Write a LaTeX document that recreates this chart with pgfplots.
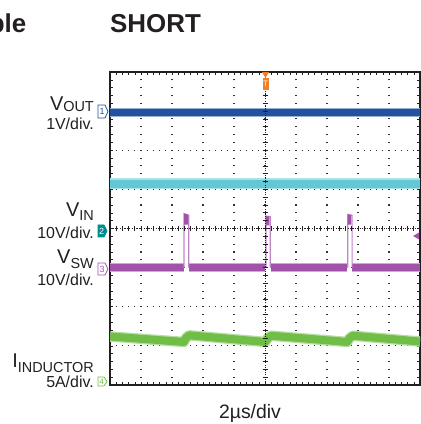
\documentclass[border=0pt]{standalone}
\usepackage{pgfplots}
\pgfplotsset{compat=1.18}
\usepackage{fontspec}
\setmainfont{Liberation Sans}
\definecolor{chblue}{RGB}{32,82,160}
\definecolor{chcyan}{RGB}{100,200,212}
\definecolor{chmag}{RGB}{162,82,170}
\definecolor{chgreen}{RGB}{112,190,72}
\definecolor{chteal}{RGB}{0,140,140}
\definecolor{chorange}{RGB}{240,125,40}
\definecolor{txt}{RGB}{35,31,32}
\newcommand{\lbig}{\fontsize{20}{22}\selectfont}
\newcommand{\lmid}{\fontsize{16}{18}\selectfont}
\newcommand{\lsub}{\fontsize{14.5}{16}\selectfont}

\begin{document}
\begin{tikzpicture}[x=1bp,y=1bp]
\useasboundingbox (0,0) rectangle (421,424);

% title
\node[anchor=base west, inner sep=0, txt, font=\bfseries\fontsize{26}{28}\selectfont] at (110,391.7) {SHORT};
\node[anchor=base east, inner sep=0, txt, font=\bfseries\fontsize{26}{28}\selectfont] at (26.5,391.7) {Table};

\begin{axis}[
    at={(110bp,39bp)}, anchor=south west,
    scale only axis, width=310bp, height=313bp,
    xmin=0, xmax=10, ymin=0, ymax=8,
    xtick={0,...,10}, ytick={0,...,8},
    minor tick num=4,
    xticklabels={}, yticklabels={},
    tick align=inside, tick pos=both,
    major tick length=3bp, minor tick length=3bp,
    every tick/.style={txt, line width=0.6bp},
    axis line style={txt, line width=1.4bp},
    grid=major,
    x grid style={black!80, line width=1.1bp, dash pattern=on 1.1bp off 6.725bp, dash phase=0.55bp},
    y grid style={black!80, line width=1.1bp, dash pattern=on 1.1bp off 5.1bp, dash phase=0.55bp},
]
% V_OUT
\addplot[chblue!45, line width=9bp] coordinates {(0,6.97) (10,6.97)};
\addplot[chblue, line width=6.5bp] coordinates {(0,6.97) (10,6.97)};
% second channel (cyan)
\addplot[chcyan!55, line width=11bp] coordinates {(0,5.14) (10,5.14)};
\addplot[chcyan, line width=8bp] coordinates {(0,5.14) (10,5.14)};
% V_SW baseline
\addplot[chmag!50, line width=9bp, unbounded coords=jump] coordinates {
  (0,3) (2.38,3) (2.45,nan) (2.56,3) (5.01,3) (5.08,nan) (5.19,3) (7.65,3) (7.72,nan) (7.82,3) (10,3)};
\addplot[chmag, line width=7bp, unbounded coords=jump] coordinates {
  (0,3) (2.38,3) (2.45,nan) (2.56,3) (5.01,3) (5.08,nan) (5.19,3) (7.65,3) (7.72,nan) (7.82,3) (10,3)};
% V_SW pulses
\addplot[chmag!70, line width=1.2bp] coordinates {(2.39,3) (2.39,4.38) (2.54,4.34) (2.54,3)};
\addplot[chmag!70, line width=1.2bp] coordinates {(5.03,3) (5.03,4.32) (5.17,4.30) (5.17,3)};
\addplot[chmag!70, line width=1.2bp] coordinates {(7.67,3) (7.67,4.36) (7.81,4.34) (7.81,3)};
\addplot[chmag, fill=chmag, draw=none] coordinates {(2.39,4.38) (2.52,4.35) (2.52,4.10) (2.39,4.10)} --cycle;
\addplot[chmag, fill=chmag, draw=none] coordinates {(5.03,4.32) (5.14,4.30) (5.14,4.08) (5.03,4.08)} --cycle;
\addplot[chmag, fill=chmag, draw=none] coordinates {(7.67,4.36) (7.79,4.34) (7.79,4.10) (7.67,4.10)} --cycle;
% I_INDUCTOR
\addplot[chgreen!50, line width=10.5bp, line join=round] coordinates {
  (0,1.24) (2.38,1.10) (2.45,1.20) (2.55,1.27) (5.01,1.10) (5.08,1.19) (5.19,1.26) (7.65,1.10) (7.72,1.19) (7.83,1.26) (10,1.11)};
\addplot[chgreen, line width=8bp, line join=round] coordinates {
  (0,1.24) (2.38,1.10) (2.45,1.20) (2.55,1.27) (5.01,1.10) (5.08,1.19) (5.19,1.26) (7.65,1.10) (7.72,1.19) (7.83,1.26) (10,1.11)};
\end{axis}

% centre cross hair
\draw[txt, line width=0.8bp, dash pattern=on 1.2bp off 1.2bp] (265,39) -- (265,352);
\draw[txt, line width=0.8bp, dash pattern=on 1.2bp off 1.2bp] (110,195.5) -- (420,195.5);
\foreach \i in {1,...,39} \draw[txt, line width=0.7bp] (262.5,{39+\i*7.825}) -- ++(5,0);
\foreach \i in {1,...,49} \draw[txt, line width=0.7bp] ({110+\i*6.2},193) -- ++(0,5);

% channel labels
\node[anchor=base east, inner sep=0, txt] at (94,314) {\lbig V\raisebox{-1.5bp}{\lsub OUT}};
\node[anchor=base east, inner sep=0, txt] at (94,294.5) {\lmid 1V/div.};
\node[anchor=base east, inner sep=0, txt] at (94,208) {\lbig V\raisebox{-4.5bp}{\lsub IN}};
\node[anchor=base east, inner sep=0, txt] at (94,185.5) {\lmid 10V/div.};
\node[anchor=base east, inner sep=0, txt] at (94,161) {\lbig V\raisebox{-5.5bp}{\lsub SW}};
\node[anchor=base east, inner sep=0, txt] at (94,138.5) {\lmid 10V/div.};
\node[anchor=base east, inner sep=0, txt] at (94,57) {\lbig I\raisebox{-5.5bp}{\lsub INDUCTOR}};
\node[anchor=base east, inner sep=0, txt] at (94,36.5) {\lmid 5A/div.};
\node[anchor=base, inner sep=0, txt, font=\fontsize{19.5}{21}\selectfont] at (250,6) {2µs/div};

% channel ground markers
\draw[chblue, fill=white, line width=0.8bp] (98,319) -- (105,319) -- (108,312.5) -- (105,306) -- (98,306) -- cycle;
\node[chblue, inner sep=0, font=\fontsize{9}{9}\selectfont] at (102,312.5) {1};
\draw[chteal, fill=chteal, line width=0.8bp] (98,199) -- (104,199) -- (107,193) -- (104,187) -- (98,187) -- cycle;
\node[white, inner sep=0, font=\fontsize{9}{9}\selectfont] at (101.5,193) {2};
\draw[chmag, fill=white, line width=0.8bp] (98,161) -- (105,161) -- (108,155) -- (105,149) -- (98,149) -- cycle;
\node[chmag, inner sep=0, font=\fontsize{9}{9}\selectfont] at (102,155) {3};
\draw[chgreen, fill=white, line width=0.8bp] (98,47) -- (104,47) -- (107,42.5) -- (104,38) -- (98,38) -- cycle;
\node[chgreen, inner sep=0, font=\fontsize{8}{8}\selectfont] at (101.5,42.5) {4};

% trigger markers
\fill[chorange] (262,352) -- (269,352) -- (265.5,346) -- cycle;
\fill[chorange] (262.5,346) rectangle (268.5,334);
\node[white, inner sep=0, font=\fontsize{8}{8}\selectfont] at (265.5,340) {T};
\fill[chmag] (413,188) -- (419,191.5) -- (419,184.5) -- cycle;
\end{tikzpicture}
\end{document}
